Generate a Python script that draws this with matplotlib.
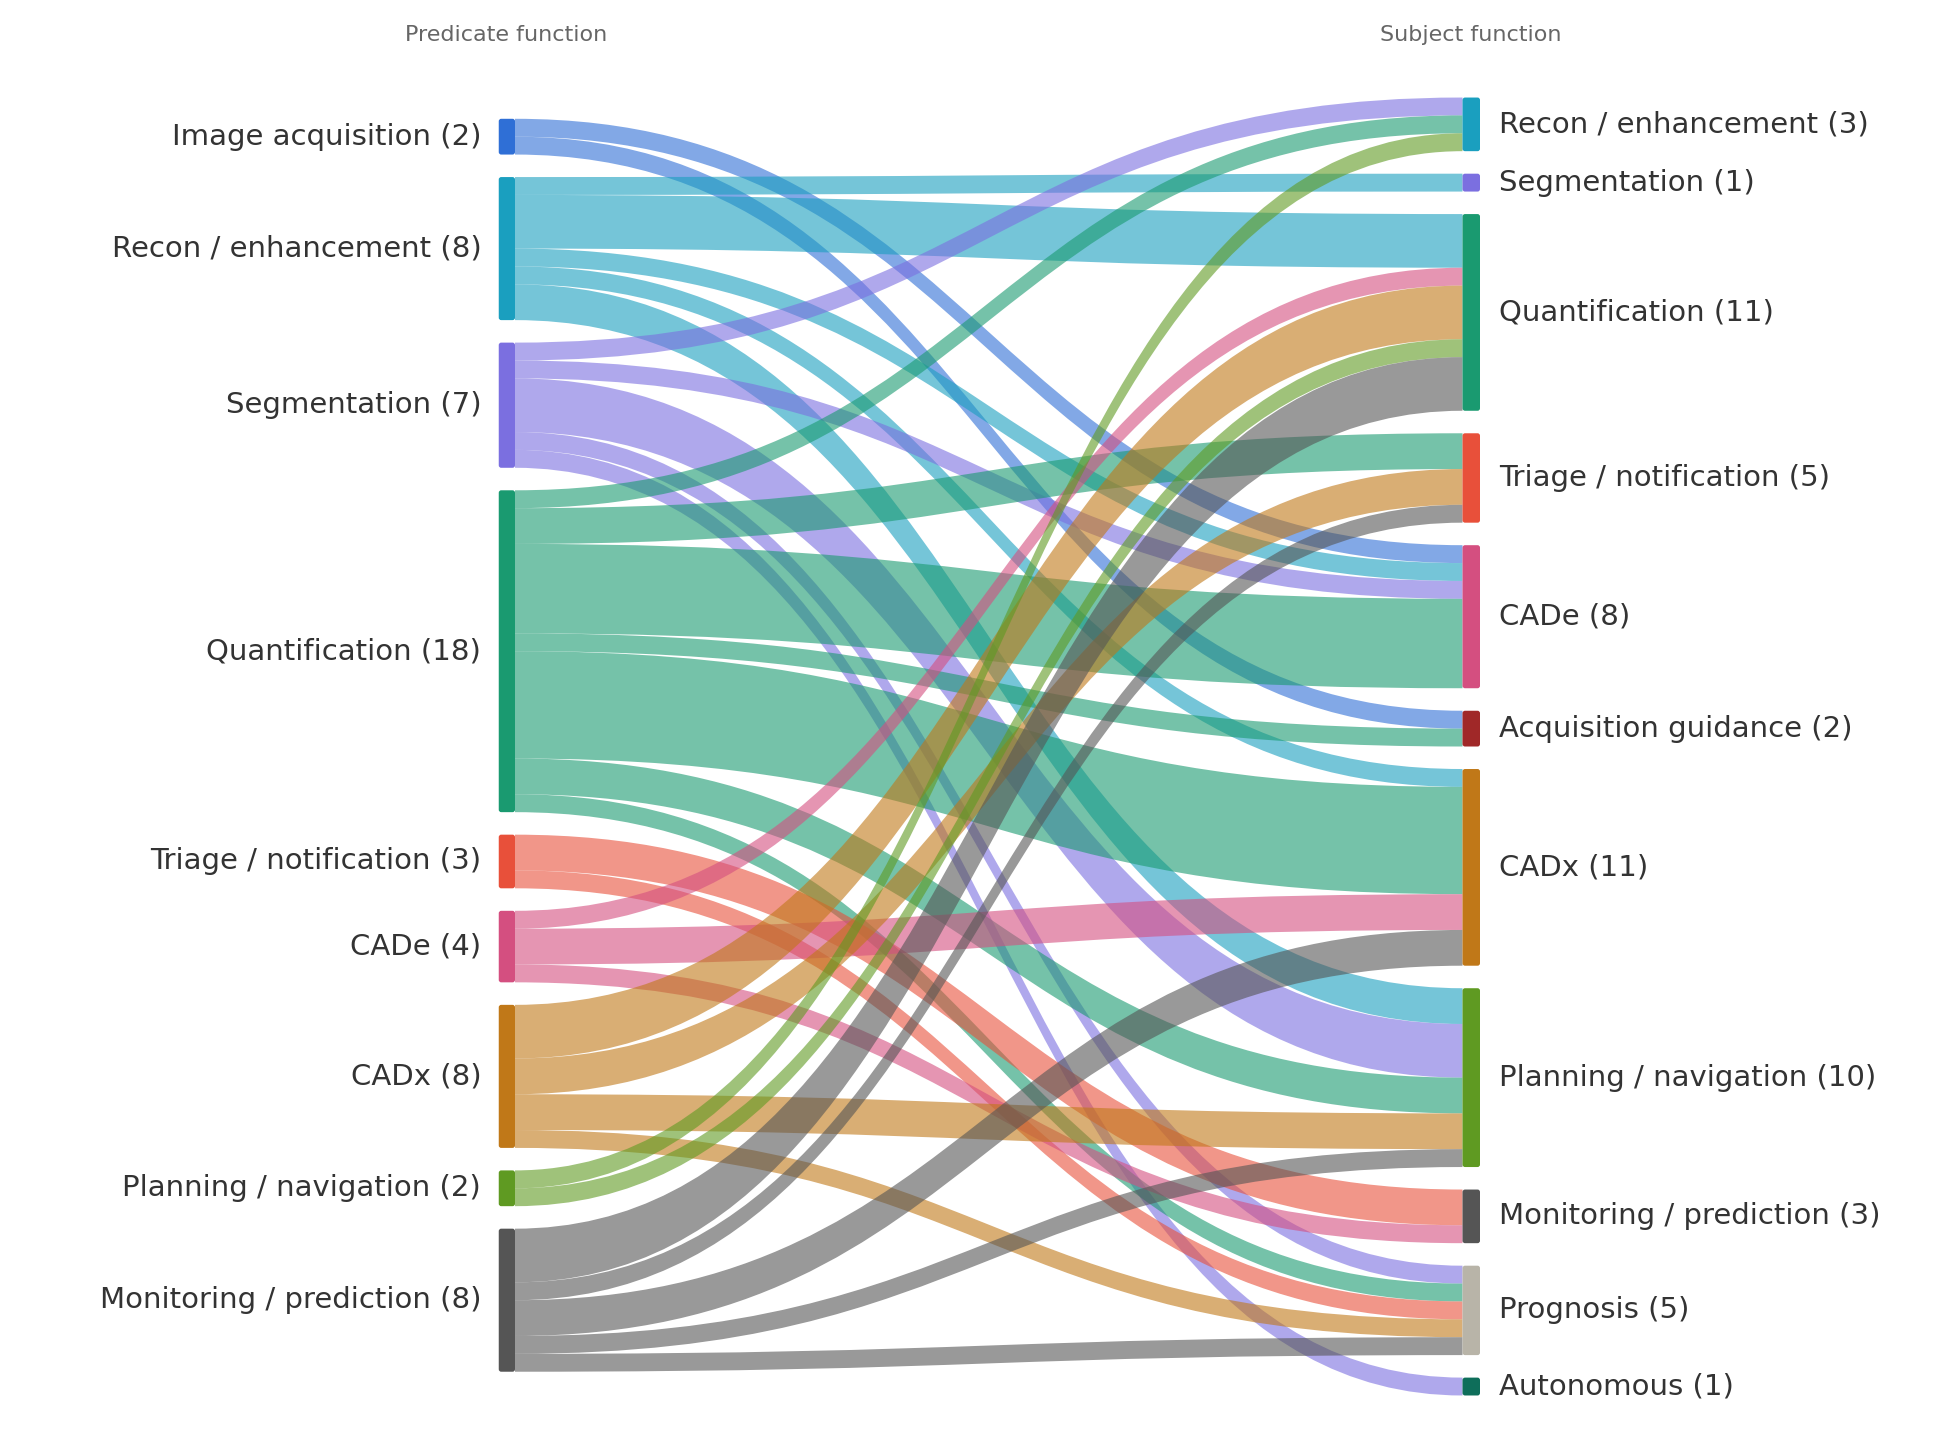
import numpy as np
import matplotlib.pyplot as plt
from matplotlib.patches import PathPatch, FancyBboxPatch
from matplotlib.path import Path

left_nodes = ["Image acquisition", "Recon / enhancement", "Segmentation", "Quantification",
              "Triage / notification", "CADe", "CADx", "Planning / navigation", "Monitoring / prediction"]
right_nodes = ["Recon / enhancement", "Segmentation", "Quantification", "Triage / notification", "CADe",
               "Acquisition guidance", "CADx", "Planning / navigation", "Monitoring / prediction",
               "Prognosis", "Autonomous"]
left_colors = ["#2f6fd6", "#1a9fbf", "#7b6fe0", "#1a9a70", "#e8503a", "#d44f80", "#c07818", "#5f9a22", "#555555"]
right_colors = ["#1a9fbf", "#7b6fe0", "#1a9a70", "#e8503a", "#d44f80", "#a02828", "#c07818", "#5f9a22",
                "#555555", "#b8b4a8", "#0e6e5a"]

# (source, target, value)
flows = [
    ("Image acquisition", "CADe", 1), ("Image acquisition", "Acquisition guidance", 1),
    ("Recon / enhancement", "Segmentation", 1), ("Recon / enhancement", "Quantification", 3),
    ("Recon / enhancement", "CADe", 1), ("Recon / enhancement", "CADx", 1),
    ("Recon / enhancement", "Planning / navigation", 2),
    ("Segmentation", "Recon / enhancement", 1), ("Segmentation", "CADe", 1),
    ("Segmentation", "Planning / navigation", 3), ("Segmentation", "Prognosis", 1),
    ("Segmentation", "Autonomous", 1),
    ("Quantification", "Recon / enhancement", 1), ("Quantification", "Triage / notification", 2),
    ("Quantification", "CADe", 5), ("Quantification", "Acquisition guidance", 1),
    ("Quantification", "CADx", 6), ("Quantification", "Planning / navigation", 2),
    ("Quantification", "Prognosis", 1),
    ("Triage / notification", "Monitoring / prediction", 2), ("Triage / notification", "Prognosis", 1),
    ("CADe", "Quantification", 1), ("CADe", "CADx", 2), ("CADe", "Monitoring / prediction", 1),
    ("CADx", "Quantification", 3), ("CADx", "Triage / notification", 2),
    ("CADx", "Planning / navigation", 2), ("CADx", "Prognosis", 1),
    ("Planning / navigation", "Recon / enhancement", 1), ("Planning / navigation", "Quantification", 1),
    ("Monitoring / prediction", "Quantification", 3), ("Monitoring / prediction", "Triage / notification", 1),
    ("Monitoring / prediction", "CADx", 2), ("Monitoring / prediction", "Planning / navigation", 1),
    ("Monitoring / prediction", "Prognosis", 1),
]

W, H = 1560, 1154
unit, gap = 14.3, 18
xl0, xl1, xr0, xr1 = 399, 412, 1170, 1184

fig = plt.figure(figsize=(19.5, 14.43), dpi=100)
ax = fig.add_axes([0, 0, 1, 1])
ax.set_xlim(0, W)
ax.set_ylim(H, 0)
ax.axis("off")

def totals(names, idx):
    return {n: sum(f[2] for f in flows if f[idx] == n) for n in names}

lt, rt = totals(left_nodes, 0), totals(right_nodes, 1)

def layout(names, tot, y0):
    pos, y = {}, y0
    for n in names:
        pos[n] = y
        y += tot[n] * unit + gap
    return pos

lpos = layout(left_nodes, lt, 95)
rpos = layout(right_nodes, rt, 78)

lcur = dict(lpos)
rcur = dict(rpos)
# incoming order on the right follows source order
in_offsets = {}
for s in left_nodes:
    for f in flows:
        if f[0] == s:
            in_offsets[f] = rcur[f[1]]
            rcur[f[1]] += f[2] * unit

for f in flows:
    s, t, v = f
    h = v * unit
    y1 = lcur[s]
    lcur[s] += h
    y2 = in_offsets[f]
    xm = (xl1 + xr0) / 2
    verts = [(xl1, y1), (xm, y1), (xm, y2), (xr0, y2),
             (xr0, y2 + h), (xm, y2 + h), (xm, y1 + h), (xl1, y1 + h), (xl1, y1)]
    codes = [Path.MOVETO, Path.CURVE4, Path.CURVE4, Path.CURVE4,
             Path.LINETO, Path.CURVE4, Path.CURVE4, Path.CURVE4, Path.CLOSEPOLY]
    c = left_colors[left_nodes.index(s)]
    ax.add_patch(PathPatch(Path(verts, codes), facecolor=c, edgecolor="none", alpha=0.6, zorder=1))

for names, tot, pos, cols, x0, x1, right in [
        (left_nodes, lt, lpos, left_colors, xl0, xl1, False),
        (right_nodes, rt, rpos, right_colors, xr0, xr1, True)]:
    for n, c in zip(names, cols):
        y, h = pos[n], tot[n] * unit
        ax.add_patch(FancyBboxPatch((x0, y), x1 - x0, h, boxstyle="round,pad=0,rounding_size=2",
                                    facecolor=c, edgecolor="none", zorder=3))
        label = f"{n} ({tot[n]})"
        if right:
            ax.text(x1 + 15, y + h / 2, label, ha="left", va="center", fontsize=21,
                    family="Poppins" if False else "DejaVu Sans", color="#333333")
        else:
            ax.text(x0 - 14, y + h / 2, label, ha="right", va="center", fontsize=21,
                    color="#333333")

ax.text(405, 28, "Predicate function", ha="center", va="center", fontsize=16, color="#666666")
ax.text(1177, 28, "Subject function", ha="center", va="center", fontsize=16, color="#666666")

fig.savefig("out.png", dpi=100)
